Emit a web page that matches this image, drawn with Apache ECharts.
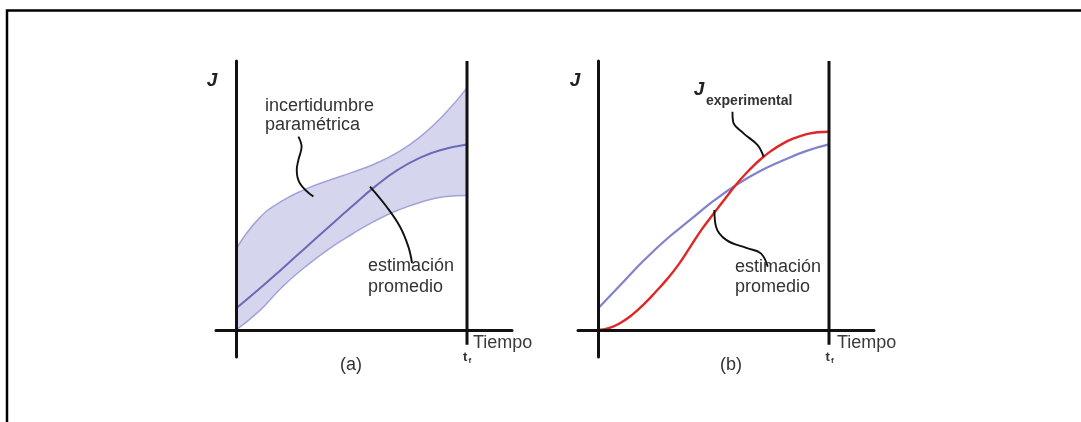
<!DOCTYPE html>
<html><head><meta charset="utf-8">
<script src="https://cdn.jsdelivr.net/npm/echarts@6/dist/echarts.min.js"></script>
<style>html,body{margin:0;padding:0;background:#ffffff}#c{width:1081px;height:422px}</style>
</head><body><div id="c"></div>
<script>
// ---------- Panel (a): parametric uncertainty band + mean estimate ----------
const tA     = [0, 0.1, 0.2, 0.3, 0.4, 0.5, 0.6, 0.7, 0.8, 0.9, 1.0];
const upperA = [0.30, 0.415, 0.48, 0.523, 0.556, 0.585, 0.617, 0.66, 0.72, 0.80, 0.90];
const lowerA = [0.0, 0.07, 0.16, 0.235, 0.30, 0.355, 0.405, 0.445, 0.475, 0.495, 0.50];
const meanA  = [0.08, 0.152, 0.228, 0.305, 0.382, 0.458, 0.532, 0.595, 0.642, 0.672, 0.69];

// ---------- Panel (b): mean estimate vs experimental ----------
const tB     = [0, 0.1, 0.2, 0.3, 0.4, 0.5, 0.6, 0.7, 0.8, 0.9, 1.0];
const meanB  = [0.08, 0.17, 0.26, 0.34, 0.41, 0.48, 0.54, 0.59, 0.63, 0.665, 0.69];
const tR     = [0, 0.05, 0.1, 0.15, 0.2, 0.25, 0.3, 0.35, 0.4, 0.45, 0.5, 0.55, 0.6, 0.65, 0.7, 0.75, 0.8, 0.85, 0.9, 0.95, 1.0];
const expB   = [0, 0.008, 0.028, 0.058, 0.097, 0.142, 0.19, 0.245, 0.31, 0.375, 0.432, 0.488, 0.543, 0.59, 0.632, 0.666, 0.693, 0.713, 0.727, 0.735, 0.737];

// final time t_f and its marker extent
const tFinal = 1;
const tfLineJ = [-0.055, 1];

// annotation pointer paths (data units)
const ptrIncT = [0.270, 0.284, 0.270, 0.263, 0.277, 0.335];
const ptrIncJ = [0.719, 0.681, 0.632, 0.595, 0.545, 0.496];
const ptrEstAT = [0.580, 0.652, 0.710, 0.746, 0.762];
const ptrEstAJ = [0.533, 0.458, 0.384, 0.310, 0.249];
const ptrExpT = [0.582, 0.585, 0.630, 0.690, 0.717];
const ptrExpJ = [0.811, 0.774, 0.731, 0.688, 0.644];
const ptrEstBT = [0.504, 0.511, 0.555, 0.645, 0.705, 0.735];
const ptrEstBJ = [0.446, 0.384, 0.335, 0.304, 0.285, 0.235];

// ---------- layout ----------
const PX_T = 231, PX_J = 269;
const gridSize = 296;
const axisColor = '#111';
const textColor = '#333';
const FONT = '"Liberation Sans", Arial, sans-serif';

function pairs(xs, ys) { return xs.map((x, i) => [x, ys[i]]); }
function line(idx, data, color, width, z, extra) {
  return Object.assign({
    type: 'line', xAxisIndex: idx, yAxisIndex: idx, data: data,
    showSymbol: false, symbol: 'none', smooth: 0.4, z: z, silent: true,
    lineStyle: { color: color, width: width }
  }, extra || {});
}
const sm = { smooth: 0.5 };

function axX(i) {
  return { type: 'value', gridIndex: i, min: -20 / PX_T, max: (gridSize - 20) / PX_T, z: 6,
    axisLine: { show: true, onZero: true, lineStyle: { color: axisColor, width: 3 } },
    axisTick: { show: false }, axisLabel: { show: false }, splitLine: { show: false } };
}
function axY(i) {
  return { type: 'value', gridIndex: i, min: -(gridSize - PX_J) / PX_J, max: 1, z: 6,
    axisLine: { show: true, onZero: true, lineStyle: { color: axisColor, width: 3 } },
    axisTick: { show: false }, axisLabel: { show: false }, splitLine: { show: false } };
}

function txt(x, y, s, font, color, align) {
  return { type: 'text', x: x, y: y, silent: true, z: 20,
    style: { text: s, font: font, fill: color || textColor, align: align || 'left', verticalAlign: 'middle' } };
}

const chart = echarts.init(document.getElementById('c'), null, { renderer: 'canvas' });
chart.setOption({
  backgroundColor: '#ffffff',
  animation: false,
  grid: [
    { left: 216, top: 61, width: gridSize, height: gridSize },
    { left: 578, top: 61, width: gridSize, height: gridSize }
  ],
  xAxis: [axX(0), axX(1)],
  yAxis: [axY(0), axY(1)],
  series: [
    // panel (a) band: upper filled down, lower masks with background
    line(0, pairs(tA, upperA), '#a3a3d8', 1.5, 1, Object.assign({ areaStyle: { color: '#d5d5ed', opacity: 1, origin: 'start' } }, sm)),
    line(0, pairs(tA, lowerA), '#a3a3d8', 1.5, 2, Object.assign({ areaStyle: { color: '#ffffff', opacity: 1, origin: 'start' } }, sm)),
    line(0, pairs(tA, meanA), '#6a6ab6', 2, 3, sm),
    line(0, [[tFinal, tfLineJ[0]], [tFinal, tfLineJ[1]]], axisColor, 3, 7, { smooth: false }),
    line(0, pairs(ptrIncT, ptrIncJ), '#111', 1.9, 4),
    line(0, pairs(ptrEstAT, ptrEstAJ), '#111', 1.9, 4),
    // panel (b)
    line(1, pairs(tB, meanB), '#8282cc', 2.2, 3, sm),
    line(1, pairs(tR, expB), '#e12626', 2.4, 3, sm),
    line(1, [[tFinal, tfLineJ[0]], [tFinal, tfLineJ[1]]], axisColor, 3, 7, { smooth: false }),
    line(1, pairs(ptrExpT, ptrExpJ), '#111', 1.9, 4),
    line(1, pairs(ptrEstBT, ptrEstBJ), '#111', 1.9, 4)
  ],
  graphic: [
    { type: 'polyline', silent: true, z: 20,
      shape: { points: [[7, 422], [7, 10.5], [1081, 10.5]] },
      style: { stroke: '#000', lineWidth: 2.5, fill: null } },
    // panel (a) texts
    txt(212, 81, 'J', 'italic bold 19px ' + FONT, '#222', 'center'),
    txt(265, 106, 'incertidumbre', '18px ' + FONT),
    txt(265, 125, 'paramétrica', '18px ' + FONT),
    txt(368, 266, 'estimación', '18px ' + FONT),
    txt(368, 287, 'promedio', '18px ' + FONT),
    txt(473, 343, 'Tiempo', '18px ' + FONT, '#3a3a3a'),
    txt(463, 357, 't', 'bold 13px ' + FONT, '#333'),
    txt(468.5, 361, 'f', 'bold 8px ' + FONT, '#333'),
    txt(351, 365, '(a)', '18px ' + FONT, '#333', 'center'),
    // panel (b) texts
    txt(575, 81, 'J', 'italic bold 19px ' + FONT, '#222', 'center'),
    txt(699, 90, 'J', 'italic bold 19px ' + FONT, '#222', 'center'),
    txt(706, 101, 'experimental', 'bold 14px ' + FONT, '#333'),
    txt(735, 267, 'estimación', '18px ' + FONT),
    txt(735, 287, 'promedio', '18px ' + FONT),
    txt(837, 343, 'Tiempo', '18px ' + FONT, '#3a3a3a'),
    txt(825.5, 357, 't', 'bold 13px ' + FONT, '#333'),
    txt(831, 361, 'f', 'bold 8px ' + FONT, '#333'),
    txt(731, 365, '(b)', '18px ' + FONT, '#333', 'center')
  ]
});
</script></body></html>
